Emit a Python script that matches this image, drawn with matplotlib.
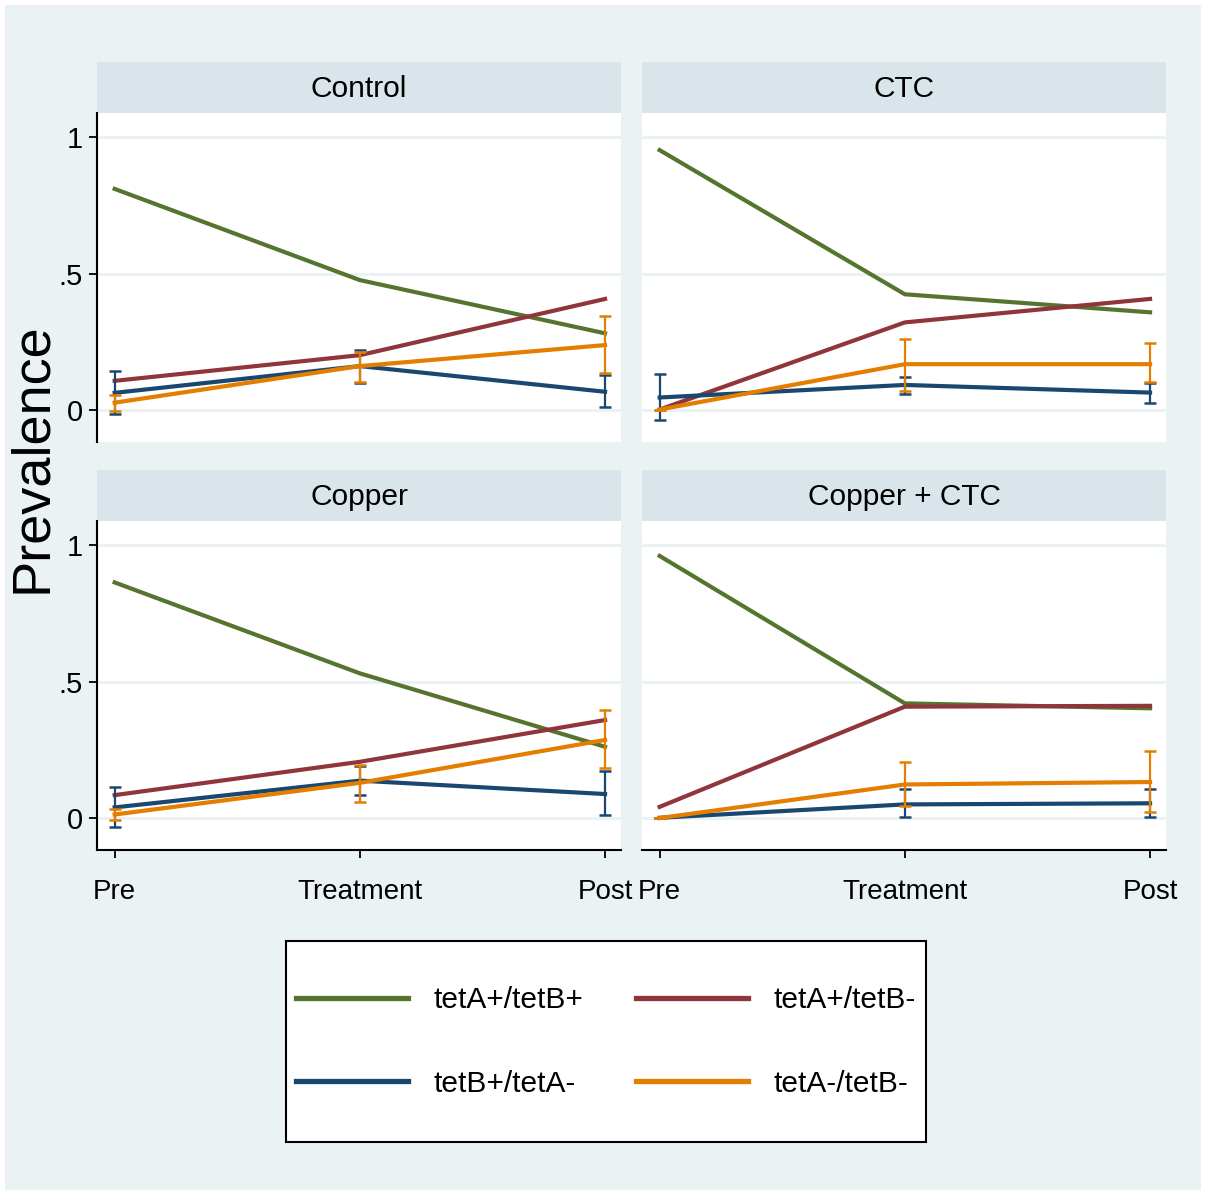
import matplotlib
matplotlib.use("Agg")
import matplotlib.pyplot as plt
from matplotlib.lines import Line2D
from matplotlib.patches import Rectangle
import numpy as np

# ---------------- data ----------------
periods = ["Pre", "Treatment", "Post"]
panels = ["Control", "CTC", "Copper", "Copper + CTC"]
series = ["tetA+/tetB+", "tetA+/tetB-", "tetB+/tetA-", "tetA-/tetB-"]

# prevalence values per panel: [Pre, Treatment, Post]
ab_pos = {"Control": [0.81, 0.476, 0.281], "CTC": [0.952, 0.424, 0.358],
          "Copper": [0.863, 0.530, 0.261], "Copper + CTC": [0.960, 0.420, 0.402]}
a_only = {"Control": [0.107, 0.201, 0.407], "CTC": [0.002, 0.321, 0.407],
          "Copper": [0.084, 0.206, 0.359], "Copper + CTC": [0.041, 0.408, 0.411]}
b_only = {"Control": [0.063, 0.161, 0.067], "CTC": [0.046, 0.092, 0.064],
          "Copper": [0.039, 0.137, 0.088], "Copper + CTC": [0.001, 0.050, 0.054]}
neither = {"Control": [0.027, 0.161, 0.238], "CTC": [0.002, 0.168, 0.168],
           "Copper": [0.013, 0.129, 0.286], "Copper + CTC": [0.000, 0.123, 0.132]}

# confidence intervals (lower, upper) for tetB+/tetA- and tetA-/tetB-
b_only_lo = {"Control": [-0.016, 0.10, 0.012], "CTC": [-0.037, 0.06, 0.027],
             "Copper": [-0.034, 0.084, 0.013], "Copper + CTC": [0.001, 0.005, 0.005]}
b_only_hi = {"Control": [0.143, 0.22, 0.128], "CTC": [0.132, 0.122, 0.10],
             "Copper": [0.115, 0.19, 0.173], "Copper + CTC": [0.001, 0.105, 0.105]}
neither_lo = {"Control": [-0.004, 0.104, 0.137], "CTC": [0.002, 0.071, 0.104],
              "Copper": [-0.007, 0.060, 0.182], "Copper + CTC": [0.0, 0.044, 0.022]}
neither_hi = {"Control": [0.055, 0.211, 0.345], "CTC": [0.002, 0.262, 0.244],
              "Copper": [0.032, 0.194, 0.396], "Copper + CTC": [0.0, 0.206, 0.247]}

yticks = [0, 0.5, 1]
yticklabels = ["0", ".5", "1"]

# ---------------- style ----------------
GREEN = "#55752F"
RED = "#90353B"
BLUE = "#1A476F"
ORANGE = "#E37E00"
BG = "#EAF2F3"
STRIP = "#D9E5EB"
GRID = "#EAF2F3"
FONT = ["Liberation Sans", "DejaVu Sans"]

W, H = 1206, 1194
fig = plt.figure(figsize=(W / 100, H / 100), dpi=100)
fig.patch.set_facecolor("white")

# outer background
bgax = fig.add_axes([5 / W, 1 - 1190 / H, 1196 / W, 1185 / H])
bgax.set_facecolor(BG)
bgax.set_xticks([]); bgax.set_yticks([])
for s in bgax.spines.values():
    s.set_visible(False)
bgax.set_zorder(-10)


def px_axes(x0, y0, x1, y1, **kw):
    return fig.add_axes([x0 / W, 1 - y1 / H, (x1 - x0) / W, (y1 - y0) / H], **kw)


boxes = {
    "Control": (97, 62, 621, 113, 442),
    "CTC": (642, 62, 1166, 113, 442),
    "Copper": (97, 470, 621, 521, 850),
    "Copper + CTC": (642, 470, 1166, 521, 850),
}


def ci(v, lo, hi):
    v = np.array(v); lo = np.array(lo); hi = np.array(hi)
    return [np.clip(v - lo, 0, None), np.clip(hi - v, 0, None)]


x = np.arange(len(periods))
for i, name in enumerate(panels):
    x0, sy0, x1, py0, py1 = boxes[name]
    # strip
    sax = px_axes(x0, sy0, x1, py0)
    sax.set_facecolor(STRIP)
    sax.set_xticks([]); sax.set_yticks([])
    for s in sax.spines.values():
        s.set_visible(False)
    sax.text(0.5, 0.47, name, ha="center", va="center", fontsize=21.5,
             family=FONT, transform=sax.transAxes)

    ax = px_axes(x0, py0, x1, py1)
    ax.set_facecolor("white")
    ax.set_xlim(-0.072, 2.065)
    ax.set_ylim(-0.117, 1.088)
    for yv in yticks:
        ax.axhline(yv, color=GRID, lw=2.2, zorder=0)

    ax.plot(x, ab_pos[name], color=GREEN, lw=3.0, zorder=3)
    ax.plot(x, a_only[name], color=RED, lw=3.0, zorder=3)
    ax.errorbar(x, b_only[name], yerr=ci(b_only[name], b_only_lo[name], b_only_hi[name]),
                color=BLUE, lw=3.0, elinewidth=1.6, capsize=4.5, capthick=1.8, zorder=4)
    ax.errorbar(x, neither[name], yerr=ci(neither[name], neither_lo[name], neither_hi[name]),
                color=ORANGE, lw=3.0, elinewidth=1.6, capsize=4.5, capthick=1.8, zorder=5)

    for s in ax.spines.values():
        s.set_visible(False)
    left = i % 2 == 0
    bottom = i >= 2
    if left:
        ax.spines["left"].set_visible(True)
        ax.spines["left"].set_linewidth(1.5)
        ax.set_yticks(yticks)
        ax.set_yticklabels(yticklabels, fontsize=21, family=FONT)
        ax.tick_params(axis="y", length=6, width=1.3, pad=4)
    else:
        ax.set_yticks([])
    if bottom:
        ax.spines["bottom"].set_visible(True)
        ax.spines["bottom"].set_linewidth(1.5)
        ax.set_xticks(x)
        ax.set_xticklabels(periods, fontsize=20, family=FONT)
        ax.tick_params(axis="x", length=6, width=1.3, pad=15)
    else:
        ax.set_xticks([])

fig.text(32 / W, 1 - 458 / H, "Prevalence", rotation=90, ha="center", va="center",
         fontsize=39, family=FONT)

# legend box
fig.patches.append(Rectangle((286 / W, 1 - 1142 / H), 640 / W, 201 / H,
                             transform=fig.transFigure, facecolor="white",
                             edgecolor="black", lw=1.5, zorder=1))

handles = [Line2D([], [], color=c, lw=3.8) for c in (GREEN, BLUE, RED, ORANGE)]
labels = [series[0], series[2], series[1], series[3]]
leg = fig.legend(handles, labels, loc="center", ncol=2,
                 bbox_to_anchor=(606 / W, 1 - 1042 / H),
                 prop={"family": FONT, "size": 21.5},
                 handlelength=3.75, handletextpad=0.85, columnspacing=1.75,
                 labelspacing=1.85, borderpad=0.2, frameon=False)
leg.set_zorder(5)

fig.savefig("out.png", dpi=100)
